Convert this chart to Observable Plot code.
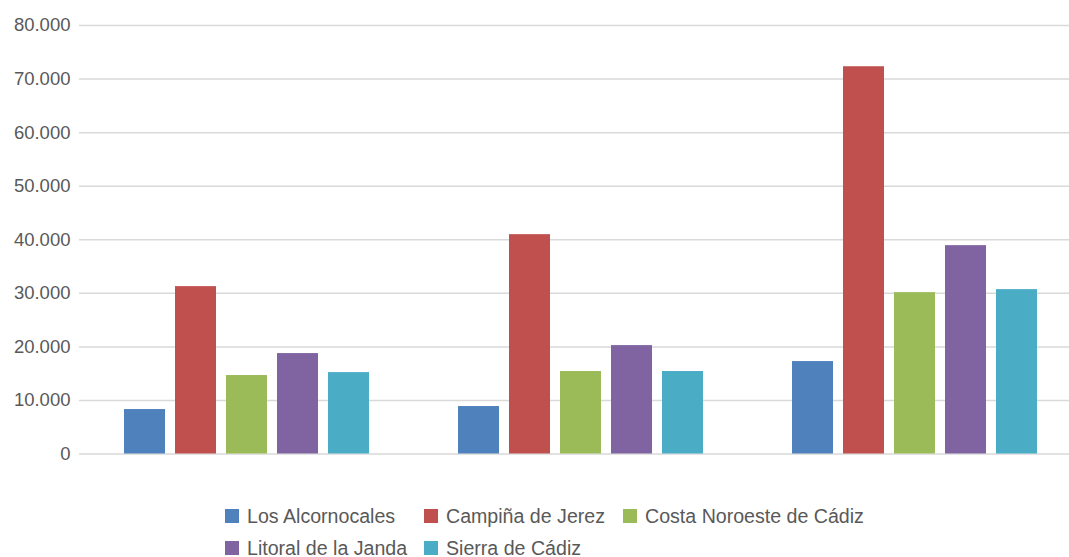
<!DOCTYPE html>
<html>
<head>
<meta charset="utf-8">
<script src="https://cdn.jsdelivr.net/npm/d3@7"></script>
<script src="https://cdn.jsdelivr.net/npm/@observablehq/plot@0.6"></script>
<style>
  html, body { margin: 0; padding: 0; background: #fff; overflow: hidden; }
  #wrap { position: relative; width: 1069px; height: 557px; }
  #legend {
    position: absolute; left: 225px; top: 500px;
    display: grid; grid-template-columns: 199px 199px 240px; row-gap: 0;
    font-family: "Liberation Sans", Arial, sans-serif; font-size: 19.6px; color: #595959;
  }
  .item { display: flex; align-items: center; height: 32px; white-space: nowrap; }
  .sw { width: 14px; height: 14px; margin-right: 8px; flex: none; }
</style>
</head>
<body>
<div id="wrap"><div id="chart"></div><div id="legend"></div></div>
<script>
const groups = ["Grupo 1", "Grupo 2", "Grupo 3"];
const series = ["Los Alcornocales", "Campiña de Jerez", "Costa Noroeste de Cádiz", "Litoral de la Janda", "Sierra de Cádiz"];
const colors = ["#4F81BD", "#C0504D", "#9BBB59", "#8064A2", "#4BACC6"];
const valuesAlcornocales = [8300, 8860, 17260];
const valuesCampina = [31250, 40950, 72300];
const valuesCosta = [14650, 15400, 30130];
const valuesLitoral = [18750, 20240, 38900];
const valuesSierra = [15200, 15400, 30690];
const yTicks = [0, 10000, 20000, 30000, 40000, 50000, 60000, 70000, 80000];

const seriesValues = [valuesAlcornocales, valuesCampina, valuesCosta, valuesLitoral, valuesSierra];
const data = [];
groups.forEach((g, gi) => series.forEach((s, si) => data.push({group: g, serie: s, value: seriesValues[si][gi]})));

const es = d3.formatLocale({decimal: ",", thousands: ".", grouping: [3], currency: ["", " €"]});
const fmt = es.format(",");

const chart = Plot.plot({
  width: 1069,
  height: 495,
  marginTop: 25,
  marginBottom: 41.5,
  marginLeft: 80,
  marginRight: 0,
  style: {fontFamily: "'Liberation Sans', Arial, sans-serif", fontSize: "18.5px", color: "#595959", background: "#fff"},
  fx: {domain: groups, range: [79, 1081], padding: 0, axis: null, label: null},
  x: {domain: series, paddingInner: 0.2, paddingOuter: 0.859, axis: null, label: null},
  y: {domain: [0, 80000], ticks: yTicks, tickFormat: fmt, tickSize: 0, tickPadding: 9, label: null},
  color: {domain: series, range: colors},
  marks: [
    Plot.ruleY(yTicks, {stroke: "#d9d9d9", strokeWidth: 1.5}),
    Plot.barY(data, {fx: "group", x: "serie", y: "value", fill: "serie"})
  ]
});
document.getElementById("chart").appendChild(chart);

const legend = document.getElementById("legend");
series.forEach((s, i) => {
  const it = document.createElement("div");
  it.className = "item";
  const sw = document.createElement("span");
  sw.className = "sw";
  sw.style.background = colors[i];
  const t = document.createElement("span");
  t.textContent = s;
  it.appendChild(sw); it.appendChild(t);
  legend.appendChild(it);
});
</script>
</body>
</html>
